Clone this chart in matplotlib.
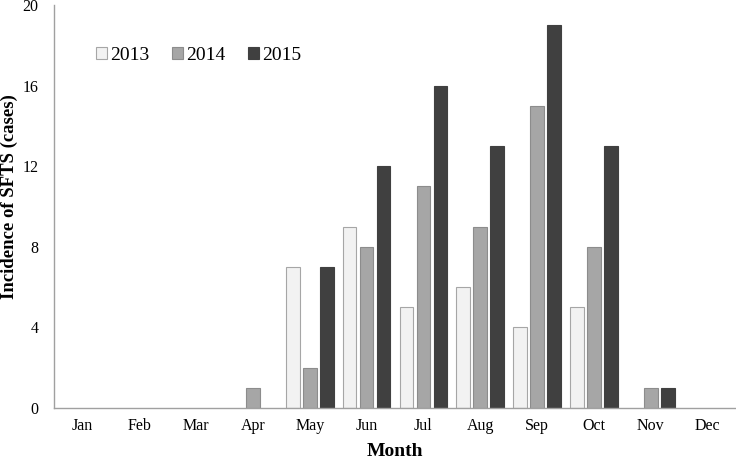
import numpy as np
import matplotlib.pyplot as plt

plt.rcParams['font.family'] = ['Liberation Serif', 'DejaVu Serif']

months = ["Jan", "Feb", "Mar", "Apr", "May", "Jun", "Jul", "Aug", "Sep", "Oct", "Nov", "Dec"]
years = ["2013", "2014", "2015"]
cases_2013 = [0, 0, 0, 0, 7, 9, 5, 6, 4, 5, 0, 0]
cases_2014 = [0, 0, 0, 1, 2, 8, 11, 9, 15, 8, 1, 0]
cases_2015 = [0, 0, 0, 0, 7, 12, 16, 13, 19, 13, 1, 0]

fill = ["#f2f2f2", "#a6a6a6", "#404040"]
edge = ["#a6a6a6", "#8c8c8c", "#404040"]

fig = plt.figure(figsize=(7.36, 4.59), dpi=100, facecolor="white")
ax = fig.add_axes([0.0734, 0.111, 0.9266, 0.878])

x = np.arange(len(months))
w = 0.24
step = 0.3
for i, (vals, lab) in enumerate(zip([cases_2013, cases_2014, cases_2015], years)):
    v = np.array(vals, dtype=float)
    ax.bar(x + (i - 1) * step, np.where(v > 0, v, np.nan), w, color=fill[i],
           edgecolor=edge[i], linewidth=0.8, label=lab)

ax.set_xlim(-0.5, 11.5)
ax.set_ylim(0, 20)
ax.set_yticks([0, 4, 8, 12, 16, 20])
ax.set_xticks(x)
ax.set_xticklabels(months)
ax.tick_params(length=0, labelsize=11.5)
ax.tick_params(axis="x", pad=7)
ax.tick_params(axis="y", pad=11)
for s in ["top", "right"]:
    ax.spines[s].set_visible(False)
for s in ["left", "bottom"]:
    ax.spines[s].set_color("#a0a0a0")
    ax.spines[s].set_linewidth(1.0)

ax.set_xlabel("Month", fontsize=14, fontweight="bold", labelpad=7)
ax.set_ylabel("Incidence of SFTS (cases)", fontsize=13.5, fontweight="bold")
ax.yaxis.set_label_coords(-0.053, 0.524)

ax.legend(loc="upper left", bbox_to_anchor=(0.036, 0.94), ncol=3, frameon=False,
          fontsize=14, handlelength=0.55, handleheight=0.55, handletextpad=0.15,
          columnspacing=1.2)

fig.savefig("out.png", dpi=100, facecolor="white")
